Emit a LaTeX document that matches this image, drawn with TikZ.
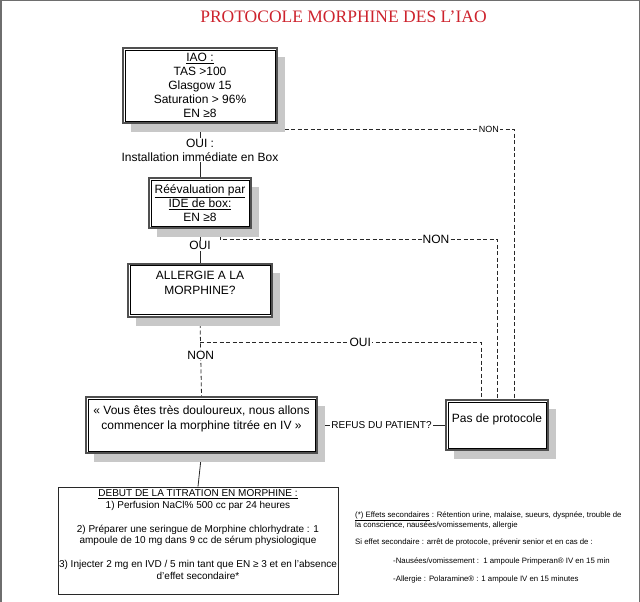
\documentclass[tikz,border=0pt]{standalone}
\usepackage{fontspec}
\setmainfont{Liberation Sans}
\newfontfamily\titlefont{Liberation Serif}
\usetikzlibrary{shadows,backgrounds}
\definecolor{boxgray}{RGB}{80,80,80}
\definecolor{shadowgray}{RGB}{200,200,200}
\definecolor{linecol}{RGB}{40,40,40}
\definecolor{titlered}{RGB}{205,35,45}
\definecolor{framegray}{RGB}{110,110,110}
\tikzset{
  dbox/.style={draw=boxgray, line width=2pt, fill=white, inner sep=2pt, align=center,
     general shadow={fill=shadowgray, shadow xshift=8pt, shadow yshift=-9pt},
     font=\fontsize{12}{14}\selectfont},
  innerframe/.style={draw=black, line width=0.7pt},
  conn/.style={draw=linecol, line width=0.8pt},
  dashline/.style={conn, dash pattern=on 4pt off 2.5pt},
  lbl/.style={fill=white, inner sep=1pt, font=\fontsize{12}{14}\selectfont},
  slbl/.style={fill=white, inner sep=1pt, font=\fontsize{9}{11}\selectfont},
  rlbl/.style={fill=white, inner sep=1pt, font=\fontsize{10}{12}\selectfont},
  notetext/.style={anchor=base west, inner sep=0pt, font=\fontsize{7.8}{8.5}\selectfont},
}
\begin{document}
\begin{tikzpicture}[x=1pt,y=-1pt]
\useasboundingbox (0,0) rectangle (640,602);
% frame
\draw[framegray, line width=1.5pt] (0,0.75) -- (640,0.75);
\draw[framegray, line width=1.5pt] (0.75,0) -- (0.75,602);
\draw[framegray, line width=1pt] (639,0) -- (639,602);

% title
\node (title) at (343.5,16.5) {\titlefont\fontsize{17.5}{20}\selectfont\color{titlered}PROTOCOLE MORPHINE DES L’IAO};

% boxes
\node[dbox, minimum width=154pt, minimum height=75pt] (b1) at (200,85.5)
  {\underline{IAO :}\\TAS >100\\Glasgow 15\\Saturation > 96\%\\EN ≥8};
\node[align=center, inner sep=1pt, font=\fontsize{12}{14}\selectfont] (oui1) at (200,150)
  {OUI :\\Installation immédiate en Box};
\node[dbox, minimum width=102pt, minimum height=50pt] (b2) at (200,203)
  {\underline{Réévaluation par}\\\underline{IDE de box:}\\EN ≥8};
\node[dbox, minimum width=144pt, minimum height=53pt, font=\fontsize{12}{15}\selectfont] (b3) at (200,290)
  {ALLERGIE A LA\\MORPHINE?\\\mbox{}};
\node[dbox, minimum width=231pt, minimum height=56pt, font=\fontsize{12}{15}\selectfont] (b4) at (201.5,425)
  {« Vous êtes très douloureux, nous allons\\commencer la morphine titrée en IV »\\\mbox{}};
\node[dbox, minimum width=102pt, minimum height=50pt] (b5) at (497,425)
  {Pas de protocole\\\mbox{}};
\node[draw=linecol, line width=0.8pt, fill=white, minimum width=280pt, minimum height=107pt,
      inner xsep=0.5pt, inner ysep=1pt, align=center, font=\fontsize{10}{11.5}\selectfont] (b6) at (198,540.5)
  {\underline{DEBUT DE LA TITRATION EN MORPHINE :}\\
   1) Perfusion NaCl\% 500 cc par 24 heures\\[12.5pt]
   2) Préparer une seringue de Morphine chlorhydrate : 1\\
   ampoule de 10 mg dans 9 cc de sérum physiologique\\[12.5pt]
   3) Injecter 2 mg en IVD / 5 min tant que EN ≥ 3 et en l'absence\\
   d'effet secondaire*\\\mbox{}};

\foreach \n in {b1,b2,b3,b4,b5}
  \draw[innerframe] ([shift={(3pt,3pt)}]\n.south west) rectangle ([shift={(-3pt,-3pt)}]\n.north east);

% connectors
\begin{scope}[on background layer]
\coordinate (d1) at ([yshift=-5pt]b1.south);
\coordinate (t1) at ([xshift=17pt]b5.north);
\coordinate (t3) at ([xshift=-16pt]b5.north);
\coordinate (d3) at ([yshift=-25pt]b3.south);
\draw[conn] (b1.south) -- (oui1.north);
\draw[conn] (oui1.south) -- (b2.north);
\draw[dashline] (d1) -| node[slbl, pos=0.46] (non1) {NON} (t1);
\draw[conn] (b2.south) -- node[lbl] (oui2) {OUI} (b3.north);
\draw[dashline] ([xshift=20pt]b2.south) -- ++(0,10) -| node[lbl, pos=0.39] (non2) {NON} (b5.north);
\draw[dashline] (b3.south) -- node[lbl, pos=0.48] (non3) {NON} (b4.north);
\draw[dashline] (d3) -| node[lbl, pos=0.285] (oui3) {OUI} (t3);
\draw[conn] (b4.east) -- node[rlbl] (refus) {REFUS DU PATIENT?} (b5.west);
\draw[conn] (b4.south) -- (b6.north);
\end{scope}

% note
\node[notetext] (n1) at (355,517) {\underline{(*) Effets secondaires} : Rétention urine, malaise, sueurs, dyspnée, trouble de};
\node[notetext] (n2) at (355,527) {la conscience, nausées/vomissements, allergie};
\node[notetext] (n3) at (355,544.5) {Si effet secondaire : arrêt de protocole, prévenir senior et en cas de :};
\node[notetext] (n4) at (393,563.5) {-Nausées/vomissement :\ \ 1 ampoule Primperan® IV en 15 min};
\node[notetext] (n5) at (393,581) {-Allergie : Polaramine® : 1 ampoule IV en 15 minutes};
\end{tikzpicture}
\end{document}
